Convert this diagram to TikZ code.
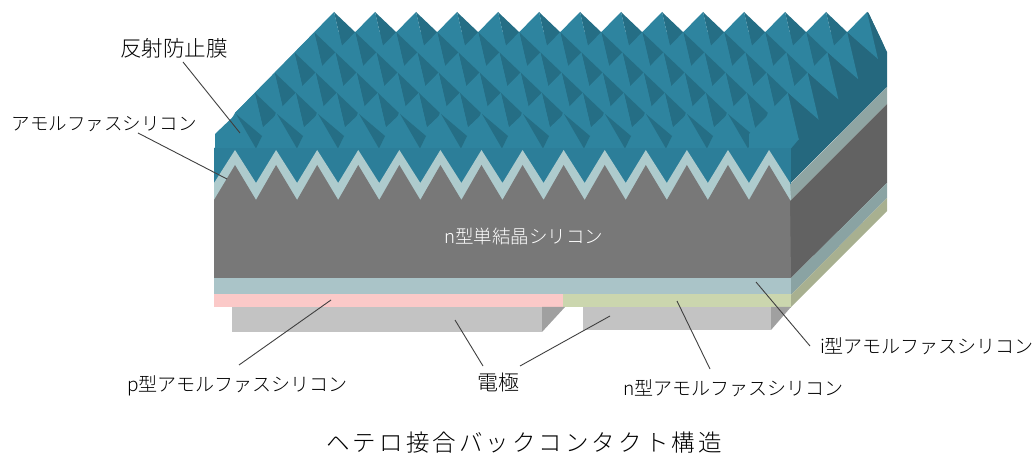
\documentclass[tikz,border=0pt]{standalone}
\usepackage{fontspec}
\setmainfont{Noto Sans CJK JP Light}
\newfontfamily\capfont[LetterSpace=13]{Noto Sans CJK JP Light}
\definecolor{bluelight}{HTML}{2E849F}
\definecolor{bluedark}{HTML}{256E85}
\definecolor{bluefront}{HTML}{2C7E99}
\definecolor{blueside}{HTML}{25687E}
\definecolor{bandfront}{HTML}{AECBCD}
\definecolor{bandside}{HTML}{8FA5A3}
\definecolor{grayfront}{HTML}{787878}
\definecolor{grayside}{HTML}{626262}
\definecolor{ifront}{HTML}{AAC4C8}
\definecolor{iside}{HTML}{8AA3A3}
\definecolor{pfront}{HTML}{FBC9C8}
\definecolor{nfront}{HTML}{CBD6AE}
\definecolor{nside}{HTML}{A8B090}
\definecolor{elfront}{HTML}{C3C3C3}
\definecolor{elside}{HTML}{A0A0A0}
\definecolor{leaderc}{HTML}{404040}
\tikzset{
  leader/.style={draw=leaderc,line width=0.9pt},
  lab/.style={inner sep=0pt,text=black,font=\fontsize{19pt}{20pt}\selectfont,anchor=center},
}
\begin{document}
\begin{tikzpicture}[x=1pt,y=-1pt]
\useasboundingbox (0,0) rectangle (1034,454);
% top light base, below the back row of peaks
\fill[bluelight] (214,149) -- (235,113) -- (315,32) -- (849,32) -- (791,149) -- cycle;
% right side
\fill[blueside] (790,183.5) -- (790,148) -- (770,113) -- (849,32) -- (868,12) -- (887,52) -- (887,87) -- cycle;
\fill[bandside] (790,184) -- (887,87) -- (887,104) -- (790,201) -- cycle;
\fill[grayside] (790,201) -- (887,104) -- (887,183) -- (790,279) -- cycle;
\fill[iside] (790,279) -- (887,183) -- (887,198) -- (790,296) -- cycle;
\fill[nside] (790,296) -- (887,198) -- (887,211) -- (790,308) -- cycle;
% pyramids, back rows first
\begin{scope}
\clip (200,160) -- (214,149) -- (235,113) -- (334,0) -- (868,0) -- (868,12) -- (887,52) -- (887,160) -- cycle;
\foreach \j in {5,4,3,2,1}{
  \foreach \i in {0,...,13}{
    \pgfmathsetmacro{\px}{235+41*\i+19.8*\j}
    \pgfmathsetmacro{\py}{113-20.2*\j}
    \ifnum\i=13 \def\dc{blueside}\else\def\dc{bluedark}\fi
    \fill[\dc] (\px,\py) -- (\px+21,\py+20) -- (\px+11,\py+47) -- cycle;
    \fill[bluelight] (\px,\py) -- (\px+11,\py+47) -- (\px-19.8,\py+20.2) -- cycle;
  }
}
\end{scope}
% front row
\foreach \i in {0,...,12}{
  \pgfmathsetmacro{\px}{236+41*\i}
  \fill[bluelight] (\px,114) -- (\px+25,136) -- (\px+20,148.5) -- (\px-21,148.5) -- (\px-21,134) -- cycle;
}
\foreach \i in {0,...,12}{
  \pgfmathsetmacro{\px}{236+41*\i}
  \fill[bluedark] (\px,114) -- (\px+26,136) -- (\px+20,148.5) -- cycle;
}
\fill[bluelight] (770,113) -- (799,139) -- (791,148.5) -- (749,148.5) -- (749,134) -- cycle;
% front face
\fill[bluefront] (214,148) -- (791,148) -- (791,184) -- (214,184) -- cycle;
\fill[bandfront] (214,183)
  \foreach \k in {0,...,13}{ -- ({235+41.08*\k},150) -- ({256+41.08*\k},183) } -- (791,200) -- (214,200) -- cycle;
\fill[grayfront] (214,200)
  \foreach \k in {0,...,13}{ -- ({235+41.08*\k},165) -- ({256+41.08*\k},200) } -- (791,278) -- (214,278) -- cycle;
\fill[ifront] (214,278) rectangle (791,294);
\fill[pfront] (214,294) rectangle (563,307);
\fill[nfront] (563,294) rectangle (791,307);
% electrodes
\fill[elfront] (232,307) rectangle (542,332);
\fill[elside] (542,307) -- (565,307) -- (542,332) -- cycle;
\fill[elfront] (583,307) rectangle (771,330);
\fill[elside] (771,307) -- (791,307) -- (771,330) -- cycle;
% labels
\node[lab,font=\fontsize{21.6pt}{22pt}\selectfont] (ar) at (174,48) {反射防止膜};
\node[lab,font=\fontsize{18.5pt}{20pt}\selectfont] (am) at (104.5,124) {アモルファスシリコン};
\node[lab,text=white,font=\fontsize{18.5pt}{20pt}\selectfont] (nc) at (524,236) {n型単結晶シリコン};
\node[lab] (pa) at (237.5,386) {p型アモルファスシリコン};
\node[lab,font=\fontsize{21pt}{22pt}\selectfont] (el) at (498,382) {電極};
\node[lab] (na) at (733.5,388) {n型アモルファスシリコン};
\node[lab] (ia) at (927,346) {i型アモルファスシリコン};
\node[inner sep=0pt,text=black,font=\capfont\fontsize{23.5pt}{26pt}\selectfont] (cap) at (524,443) {ヘテロ接合バックコンタクト構造};
% leader ends
\coordinate (ar1) at (183,62); \coordinate (ar2) at (240,133);
\coordinate (am1) at (138,133); \coordinate (am2) at (227,179);
\coordinate (pa1) at (239,365); \coordinate (pa2) at (331,300);
\coordinate (el1) at (483,366); \coordinate (el2) at (455,320);
\coordinate (el3) at (520,366); \coordinate (el4) at (610,316);
\coordinate (na1) at (710,369); \coordinate (na2) at (677,301);
\coordinate (ia1) at (810,346); \coordinate (ia2) at (756,282);
\draw[leader] (ar1) -- (ar2);
\draw[leader] (am1) -- (am2);
\draw[leader] (pa1) -- (pa2);
\draw[leader] (el1) -- (el2);
\draw[leader] (el3) -- (el4);
\draw[leader] (na1) -- (na2);
\draw[leader] (ia1) -- (ia2);
\end{tikzpicture}
\end{document}
